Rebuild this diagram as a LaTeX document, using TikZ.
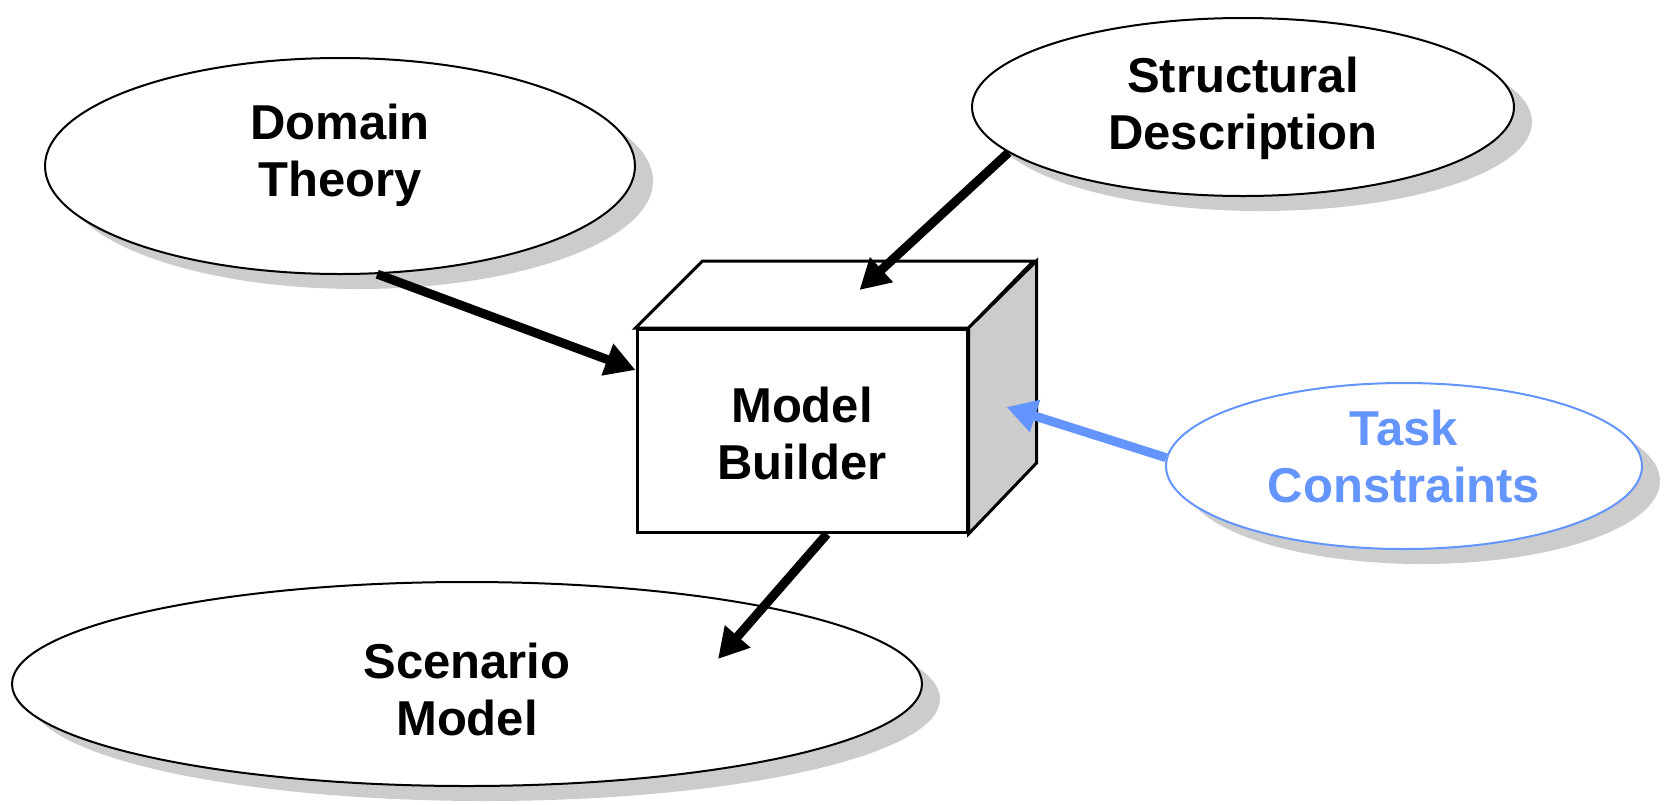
\documentclass[tikz,border=0pt]{standalone}
\usepackage{fontspec}
\setmainfont{Liberation Sans}
\usetikzlibrary{shapes.geometric,arrows.meta,calc,shadows}
\definecolor{tblue}{RGB}{100,149,255}
\definecolor{shad}{RGB}{204,204,204}
\begin{document}
\begin{tikzpicture}[x=1pt,y=-1pt,
  oval/.style={ellipse,draw,line width=2pt,fill=white,inner sep=0pt,
    drop shadow={shadow xshift=18pt,shadow yshift=-15pt,fill=shad,opacity=1}},
  lbl/.style={font=\fontsize{49}{57}\selectfont\bfseries,align=center},
  arr/.style={line width=9pt,-{Triangle[length=30pt,width=32pt]}},
  boxface/.style={line width=3pt,line join=miter}
]
\useasboundingbox (0,0) rectangle (1666,804);
% ellipses
\node[oval,minimum width=590pt,minimum height=216pt] (dt) at (340,166) {};
\node[lbl] (dtl) at (340,155) {Domain\\Theory};
\node[oval,minimum width=542pt,minimum height=178pt] (sd) at (1243,107) {};
\node[lbl] (sdl) at (1243,108) {Structural\\Description};
\node[oval,draw=tblue,minimum width=476pt,minimum height=166pt] (tc) at (1404,466) {};
\node[lbl,text=tblue] (tcl) at (1404,456) {Task\\Constraints};
\node[oval,minimum width=910pt,minimum height=204pt] (sm) at (467,684) {};
\node[lbl] (sml) at (467,689) {Scenario\\Model};
% box
\node[draw,boxface,fill=white,minimum width=330pt,minimum height=203pt] (mb) at (802,431) {};
\draw[boxface,fill=white] (mb.north west) -- ++(67,-67) -- ++(331,0) -- (mb.north east) -- cycle;
\draw[boxface,fill=shad] (mb.north east) -- ++(68,-67) -- ++(0,202) -- (mb.south east) -- cycle;
\node[lbl] (mbl) at (802,433) {Model\\Builder};
% arrows
\draw[arr] (dt.-71) -- ([yshift=-42pt]mb.north west);
\draw[arr] (sd.191) -- ([shift={(224,-38)}]mb.north west);
\draw[arr,tblue] (tc.178) -- ([shift={(38,-24)}]mb.east);
\draw[arr] ([xshift=25pt]mb.south) -- ([shift={(251,-25)}]sm.center);
\end{tikzpicture}
\end{document}
